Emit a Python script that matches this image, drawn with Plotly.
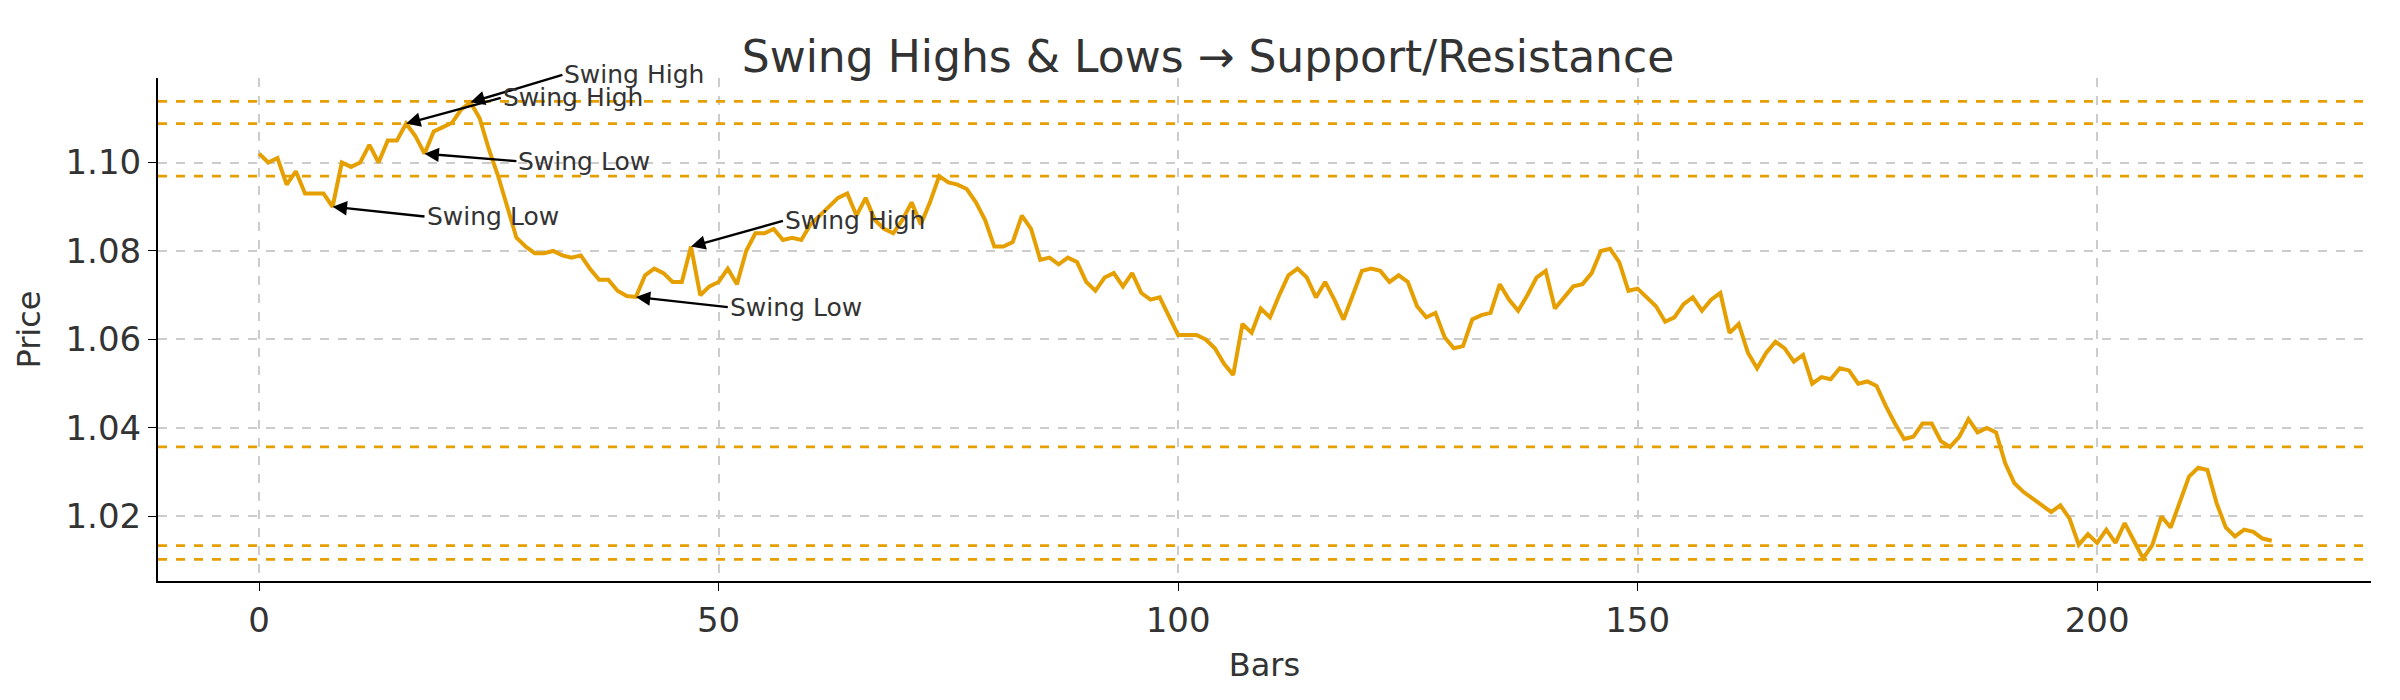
import plotly.graph_objects as go

# price per bar
price = [
    1.102, 1.100, 1.101, 1.095, 1.098, 1.093, 1.093, 1.093, 1.090, 1.100,
    1.099, 1.100, 1.104, 1.100, 1.105, 1.105, 1.1088, 1.106, 1.102, 1.107,
    1.108, 1.109, 1.112, 1.1136, 1.110, 1.103, 1.097, 1.090, 1.083, 1.081,
    1.0795, 1.0795, 1.080, 1.079, 1.0785, 1.079, 1.076, 1.0735, 1.0735, 1.071,
    1.0698, 1.0696, 1.0745, 1.076, 1.075, 1.073, 1.073, 1.081, 1.070, 1.072,
    1.073, 1.076, 1.0725, 1.080, 1.084, 1.084, 1.085, 1.0825, 1.083, 1.0825,
    1.086, 1.088, 1.090, 1.092, 1.093, 1.088, 1.092, 1.087, 1.085, 1.084,
    1.087, 1.091, 1.086, 1.091, 1.0969, 1.0955, 1.095, 1.094, 1.091, 1.087,
    1.081, 1.081, 1.082, 1.088, 1.085, 1.078, 1.0785, 1.077, 1.0785, 1.0775,
    1.073, 1.071, 1.074, 1.075, 1.072, 1.075, 1.0705, 1.069, 1.0695, 1.065,
    1.061, 1.061, 1.061, 1.060, 1.058, 1.0545, 1.052, 1.0635, 1.0615, 1.067,
    1.065, 1.070, 1.0745, 1.076, 1.074, 1.0695, 1.073, 1.069, 1.0645, 1.070,
    1.0755, 1.076, 1.0755, 1.073, 1.0745, 1.073, 1.0675, 1.065, 1.066, 1.0605,
    1.058, 1.0585, 1.0645, 1.0655, 1.066, 1.0725, 1.069, 1.0665, 1.070, 1.074,
    1.0755, 1.067, 1.0695, 1.072, 1.0725, 1.075, 1.080, 1.0805, 1.0775, 1.071,
    1.0715, 1.0695, 1.0675, 1.064, 1.065, 1.068, 1.0695, 1.0665, 1.069, 1.0705,
    1.0615, 1.0635, 1.057, 1.0535, 1.057, 1.0595, 1.058, 1.055, 1.0565, 1.050,
    1.0515, 1.051, 1.0535, 1.053, 1.050, 1.0505, 1.0495, 1.045, 1.041, 1.0375,
    1.038, 1.041, 1.041, 1.037, 1.0357, 1.038, 1.042, 1.039, 1.040, 1.039,
    1.032, 1.0275, 1.0255, 1.024, 1.0225, 1.021, 1.0225, 1.0195, 1.0136, 1.016,
    1.014, 1.017, 1.014, 1.0185, 1.0145, 1.0105, 1.0135, 1.020, 1.0175, 1.0235,
    1.029, 1.031, 1.0305, 1.023, 1.0175, 1.0155, 1.017, 1.0165, 1.015, 1.0145,
]
bars = list(range(len(price)))

levels = [1.1138, 1.1088, 1.0969, 1.0357, 1.0134, 1.0103]

# (bar, label, text x, text y)
swings = [
    (23, "Swing High", 33, 1.1198),
    (16, "Swing High", 26.3, 1.1146),
    (18, "Swing Low", 28, 1.1003),
    (8, "Swing Low", 18, 1.0878),
    (47, "Swing High", 57, 1.0868),
    (41, "Swing Low", 51, 1.0673),
]

orange = "#E69F00"

fig = go.Figure()
fig.add_trace(go.Scatter(x=bars, y=price, mode="lines",
                         line=dict(color=orange, width=4), showlegend=False))

for lv in levels:
    fig.add_hline(y=lv, line=dict(color=orange, width=2.8, dash="dash"))

for b, label, tx, ty in swings:
    fig.add_annotation(
        x=b, y=price[b], ax=tx, ay=ty, axref="x", ayref="y",
        text=label, xanchor="left", showarrow=True,
        arrowhead=2, arrowsize=1.2, arrowwidth=2.4, arrowcolor="black",
        font=dict(size=25, color="#333333"),
    )

fig.update_layout(
    width=2400, height=700,
    margin=dict(l=150, r=37, t=70, b=127),
    paper_bgcolor="white", plot_bgcolor="white",
    font=dict(family="DejaVu Sans", color="#333333"),
    title=dict(text="Swing Highs & Lows → Support/Resistance", x=0.5,
               xanchor="center", y=0.93, yanchor="middle",
               font=dict(size=44, color="#333333")),
)
fig.update_xaxes(
    range=[-11, 229.8], tickvals=[0, 50, 100, 150, 200],
    title=dict(text="Bars", font=dict(size=32)), tickfont=dict(size=34),
    showgrid=True, gridcolor="#cccccc", griddash="dash", gridwidth=1.5,
    showline=True, linecolor="black", linewidth=2, zeroline=False,
    ticks="outside", ticklen=8, tickcolor="black",
)
fig.update_yaxes(
    range=[1.0054, 1.1191], tickvals=[1.02, 1.04, 1.06, 1.08, 1.10],
    tickformat=".2f",
    title=dict(text="Price", font=dict(size=32)), tickfont=dict(size=34),
    showgrid=True, gridcolor="#cccccc", griddash="dash", gridwidth=1.5,
    showline=True, linecolor="black", linewidth=2, zeroline=False,
    ticks="outside", ticklen=8, tickcolor="black",
)

fig.write_html("out.html")
